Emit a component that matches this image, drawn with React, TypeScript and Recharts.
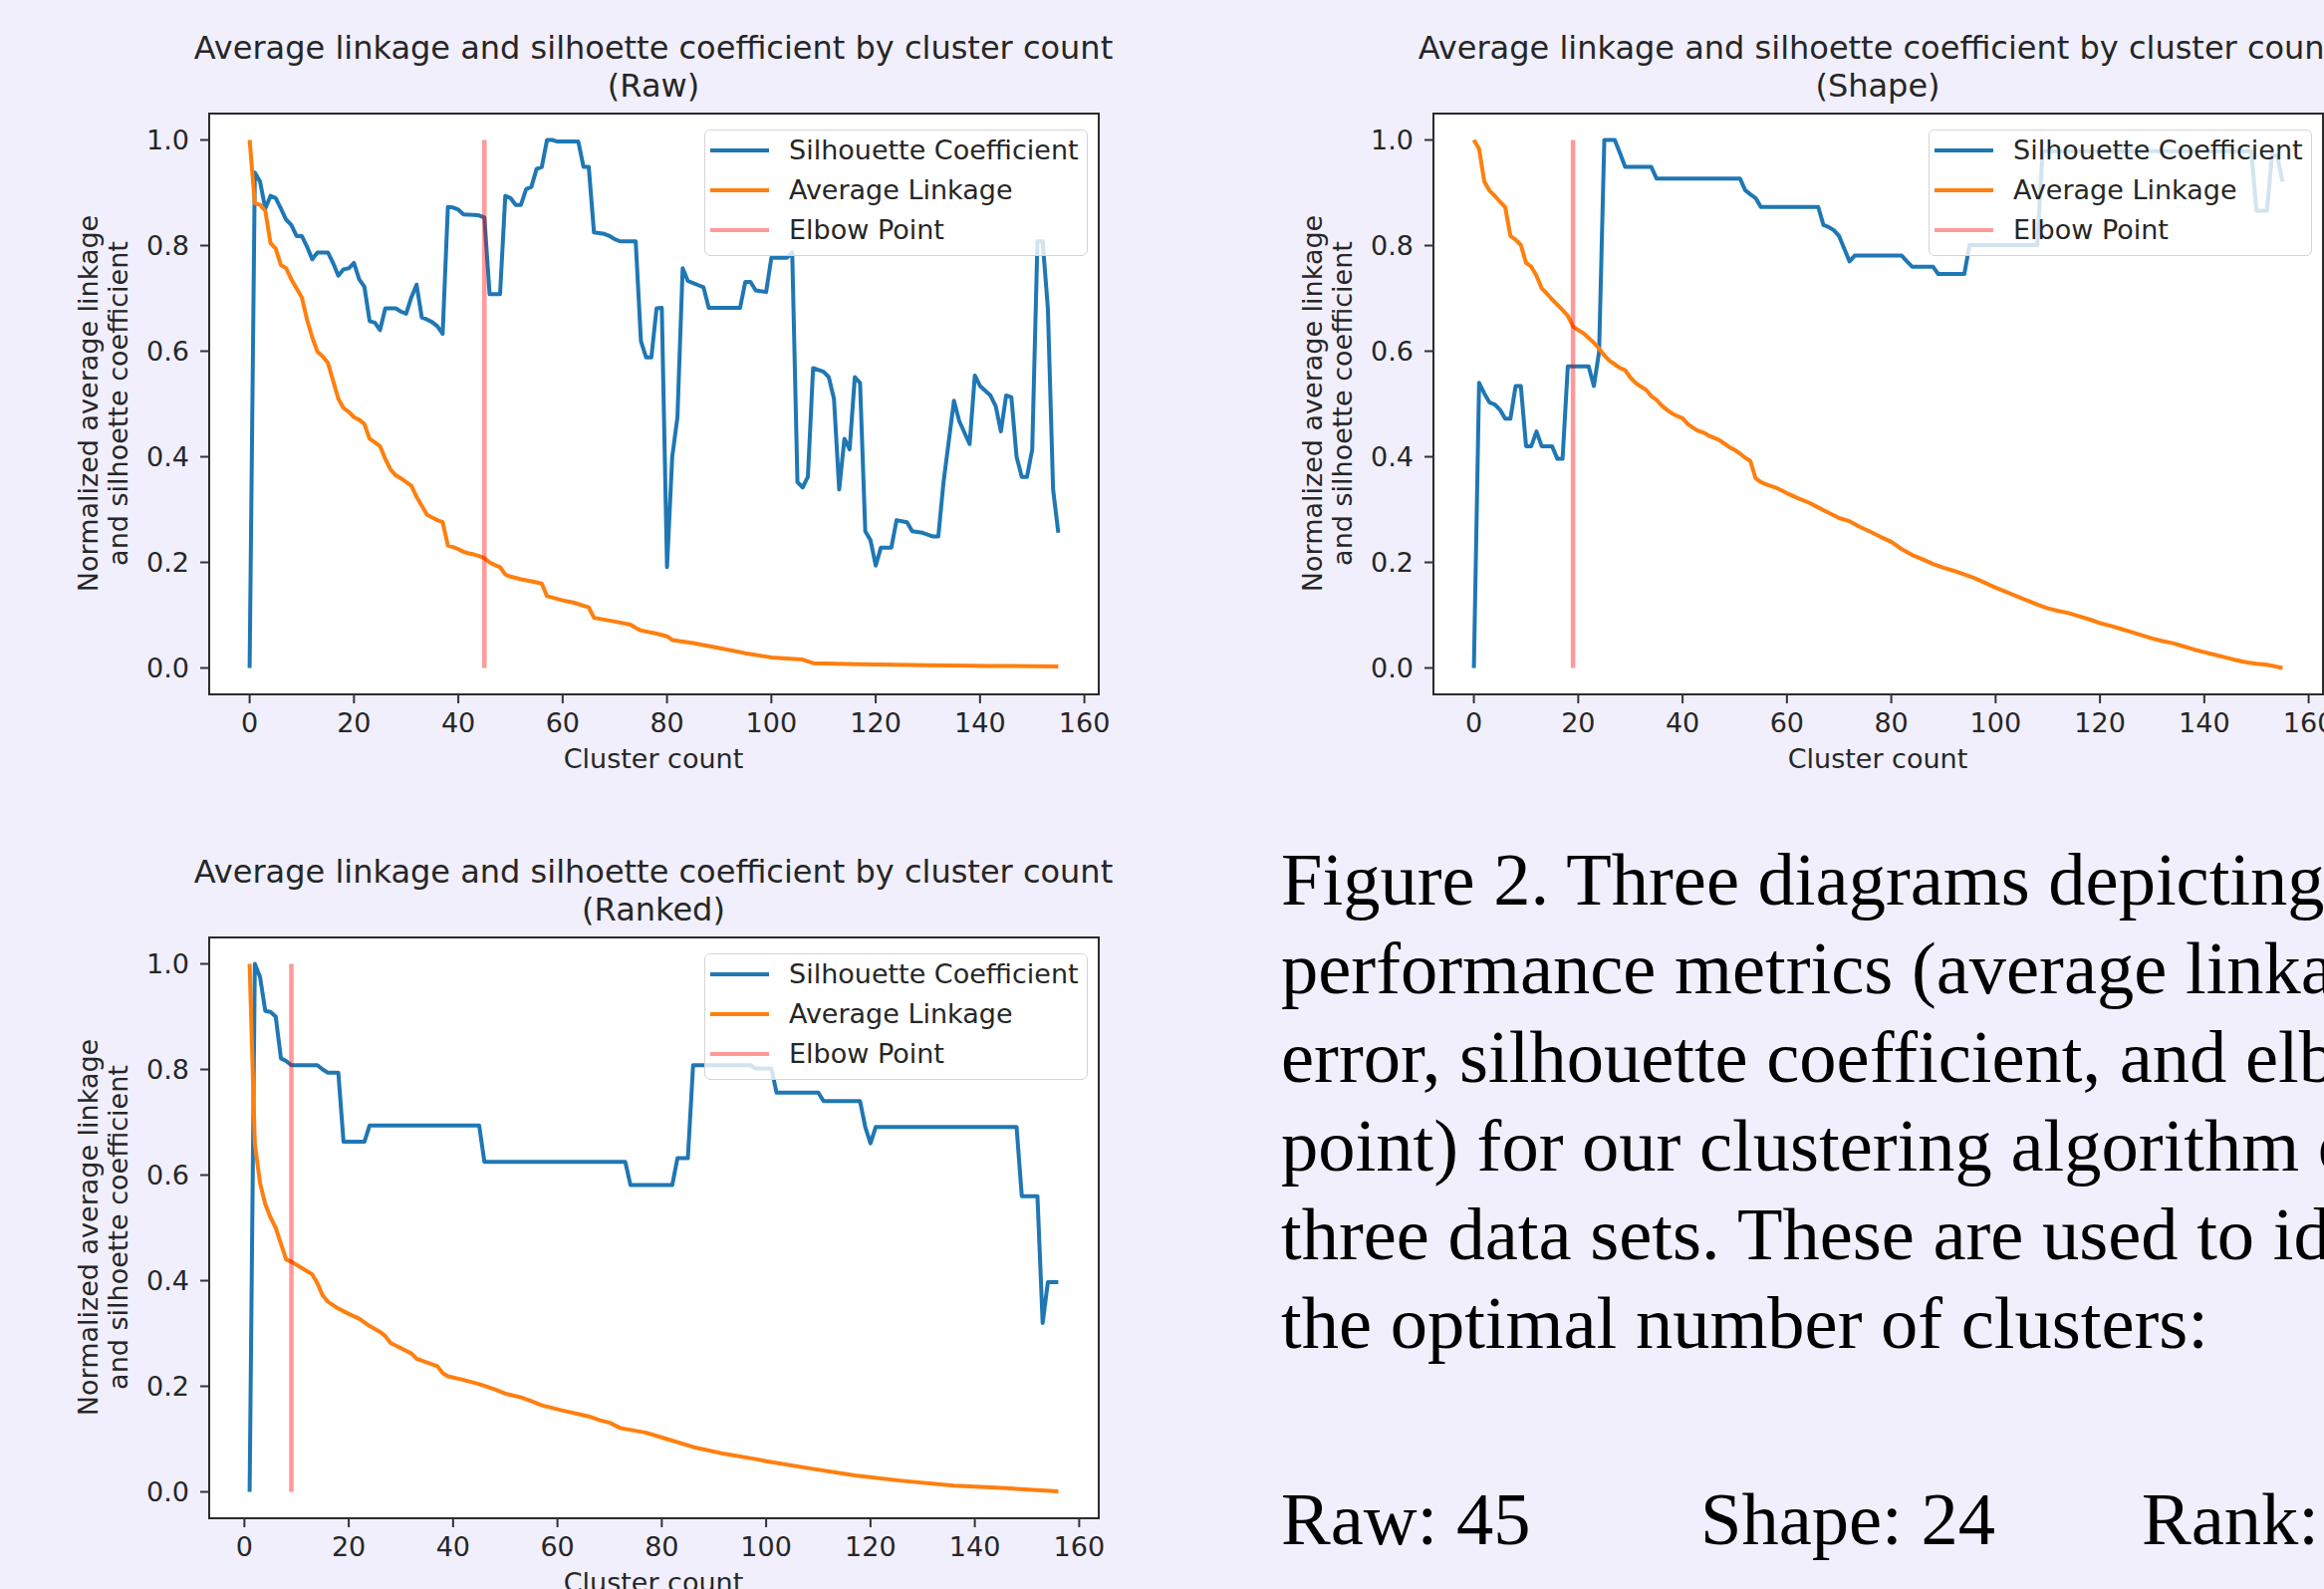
import React from "react";
import {
  LineChart,
  Line,
  XAxis,
  YAxis,
  CartesianGrid,
  ReferenceArea,
  Legend,
} from "recharts";

type Pt = [number, number];

const BLUE = "#1f77b4";
const ORANGE = "#ff7f0e";
const ELBOW = "rgba(255, 0, 0, 0.4)";
const INK = "#262626";
const SANS = "'DejaVu Sans', sans-serif";
const SERIF = "'Liberation Serif', 'Times New Roman', serif";

const X_TICKS = [0, 20, 40, 60, 80, 100, 120, 140, 160];
const Y_TICKS = [0, 0.2, 0.4, 0.6, 0.8, 1.0];

const TITLE = "Average linkage and silhoette coefficient by cluster count";
const SERIES_NAMES = ["Silhouette Coefficient", "Average Linkage", "Elbow Point"];

// cluster count -> normalized value
const RAW_SILHOUETTE: Pt[] = [
  [0, 0], [1, 0.938], [2, 0.921], [3, 0.87], [4, 0.894], [5, 0.89], [6, 0.87], [7, 0.849],
  [8, 0.839], [9, 0.818], [10, 0.818], [11, 0.798], [12, 0.774], [13, 0.787], [15, 0.787],
  [16, 0.767], [17, 0.743], [18, 0.755], [19, 0.757], [20, 0.767], [21, 0.736], [22, 0.722],
  [23, 0.657], [24, 0.654], [25, 0.64], [26, 0.681], [28, 0.681], [29, 0.675], [30, 0.671],
  [31, 0.702], [32, 0.726], [33, 0.664], [34, 0.66], [35, 0.655], [36, 0.647], [37, 0.633],
  [38, 0.873], [39, 0.872], [40, 0.868], [41, 0.859], [43, 0.858], [44, 0.857], [45, 0.853],
  [46, 0.708], [48, 0.708], [49, 0.894], [50, 0.89], [51, 0.877], [52, 0.877], [53, 0.907],
  [54, 0.911], [55, 0.945], [56, 0.949], [57, 1.0], [58, 1.0], [59, 0.997], [63, 0.997],
  [64, 0.949], [65, 0.949], [66, 0.825], [68, 0.822], [69, 0.818], [70, 0.812], [71, 0.808],
  [74, 0.808], [75, 0.619], [76, 0.588], [77, 0.588], [78, 0.681], [79, 0.682], [80, 0.191],
  [81, 0.4], [82, 0.475], [83, 0.757], [84, 0.733], [85, 0.729], [86, 0.725], [87, 0.721],
  [88, 0.682], [94, 0.682], [95, 0.731], [96, 0.731], [97, 0.715], [99, 0.712], [100, 0.777],
  [103, 0.777], [104, 0.787], [105, 0.352], [106, 0.342], [107, 0.362], [108, 0.568],
  [110, 0.561], [111, 0.551], [112, 0.51], [113, 0.338], [114, 0.434], [115, 0.414],
  [116, 0.551], [117, 0.54], [118, 0.259], [119, 0.242], [120, 0.194], [121, 0.228],
  [123, 0.228], [124, 0.28], [126, 0.276], [127, 0.259], [129, 0.256], [131, 0.249],
  [132, 0.249], [133, 0.352], [135, 0.506], [136, 0.468], [138, 0.424], [139, 0.554],
  [140, 0.534], [142, 0.516], [143, 0.496], [144, 0.448], [145, 0.516], [146, 0.513],
  [147, 0.4], [148, 0.362], [149, 0.362], [150, 0.414], [151, 0.808], [152, 0.808],
  [153, 0.681], [154, 0.338], [155, 0.256],
];

const RAW_LINKAGE: Pt[] = [
  [0, 1.0], [1, 0.88], [2, 0.877], [3, 0.866], [4, 0.805], [5, 0.794], [6, 0.763], [7, 0.757],
  [8, 0.736], [9, 0.719], [10, 0.702], [11, 0.66], [12, 0.626], [13, 0.599], [14, 0.59],
  [15, 0.578], [16, 0.544], [17, 0.51], [18, 0.492], [19, 0.485], [20, 0.475], [21, 0.47],
  [22, 0.462], [23, 0.434], [24, 0.427], [25, 0.42], [26, 0.396], [27, 0.376], [28, 0.365],
  [29, 0.359], [30, 0.352], [31, 0.345], [32, 0.324], [33, 0.307], [34, 0.29], [35, 0.285],
  [36, 0.28], [37, 0.276], [38, 0.232], [39, 0.229], [40, 0.225], [41, 0.22], [42, 0.217],
  [43, 0.215], [44, 0.212], [45, 0.208], [46, 0.2], [47, 0.195], [48, 0.191], [49, 0.177],
  [50, 0.173], [52, 0.168], [54, 0.164], [56, 0.16], [57, 0.136], [60, 0.128], [62, 0.124],
  [65, 0.115], [66, 0.095], [70, 0.088], [73, 0.082], [74, 0.076], [75, 0.071], [78, 0.065],
  [80, 0.06], [81, 0.053], [85, 0.047], [91, 0.036], [95, 0.028], [100, 0.02], [106, 0.016],
  [108, 0.009], [117, 0.007], [130, 0.005], [142, 0.004], [155, 0.003],
];

const SHAPE_SILHOUETTE: Pt[] = [
  [0, 0], [1, 0.54], [2, 0.52], [3, 0.503], [4, 0.499], [5, 0.489], [6, 0.472], [7, 0.472],
  [8, 0.534], [9, 0.534], [10, 0.42], [11, 0.42], [12, 0.448], [13, 0.42], [15, 0.42],
  [16, 0.396], [17, 0.396], [18, 0.571], [22, 0.571], [23, 0.534], [24, 0.599], [25, 1.0],
  [27, 1.0], [28, 0.975], [29, 0.949], [34, 0.949], [35, 0.927], [51, 0.927], [52, 0.905],
  [53, 0.897], [54, 0.89], [55, 0.873], [66, 0.873], [67, 0.839], [68, 0.835], [69, 0.829],
  [70, 0.818], [71, 0.794], [72, 0.77], [73, 0.781], [82, 0.781], [83, 0.77], [84, 0.76],
  [88, 0.76], [89, 0.746], [94, 0.746], [95, 0.801], [108, 0.801], [109, 0.979], [149, 0.979],
  [150, 0.866], [152, 0.866], [153, 0.973], [154, 0.969], [155, 0.921],
];

const SHAPE_LINKAGE: Pt[] = [
  [0, 1.0], [1, 0.983], [2, 0.921], [3, 0.904], [4, 0.894], [5, 0.883], [6, 0.873], [7, 0.818],
  [8, 0.811], [9, 0.801], [10, 0.767], [11, 0.76], [12, 0.743], [13, 0.719], [14, 0.709],
  [15, 0.698], [16, 0.688], [17, 0.678], [18, 0.667], [19, 0.647], [20, 0.64], [21, 0.634],
  [22, 0.625], [23, 0.616], [24, 0.605], [25, 0.592], [26, 0.582], [27, 0.575], [28, 0.568],
  [29, 0.564], [30, 0.55], [31, 0.54], [32, 0.533], [33, 0.527], [34, 0.515], [35, 0.508],
  [36, 0.497], [37, 0.489], [38, 0.482], [39, 0.477], [40, 0.473], [41, 0.462], [42, 0.455],
  [43, 0.449], [44, 0.446], [45, 0.44], [46, 0.436], [47, 0.432], [48, 0.425], [49, 0.418],
  [50, 0.413], [51, 0.406], [52, 0.398], [53, 0.392], [54, 0.359], [55, 0.352], [56, 0.348],
  [58, 0.341], [60, 0.331], [62, 0.322], [64, 0.314], [66, 0.304], [68, 0.294], [70, 0.284],
  [72, 0.278], [74, 0.267], [76, 0.258], [78, 0.248], [80, 0.239], [82, 0.225], [84, 0.214],
  [86, 0.206], [88, 0.197], [90, 0.19], [92, 0.184], [94, 0.177], [96, 0.17], [98, 0.161],
  [100, 0.152], [102, 0.144], [104, 0.136], [106, 0.128], [108, 0.12], [110, 0.113],
  [112, 0.108], [114, 0.104], [116, 0.098], [118, 0.092], [120, 0.085], [122, 0.08],
  [124, 0.074], [126, 0.068], [128, 0.062], [130, 0.056], [132, 0.051], [134, 0.047],
  [136, 0.041], [138, 0.035], [140, 0.03], [142, 0.025], [144, 0.02], [146, 0.015],
  [148, 0.011], [150, 0.008], [152, 0.006], [155, 0.0],
];

const RANKED_SILHOUETTE: Pt[] = [
  [1, 0], [2, 1.0], [3, 0.975], [4, 0.911], [5, 0.909], [6, 0.9], [7, 0.821], [8, 0.816],
  [9, 0.808], [14, 0.808], [15, 0.8], [16, 0.794], [18, 0.794], [19, 0.663], [23, 0.663],
  [24, 0.694], [45, 0.694], [46, 0.625], [73, 0.625], [74, 0.581], [82, 0.581], [83, 0.632],
  [85, 0.632], [86, 0.808], [97, 0.808], [98, 0.802], [101, 0.802], [102, 0.756], [110, 0.756],
  [111, 0.74], [118, 0.74], [119, 0.691], [120, 0.66], [121, 0.691], [148, 0.691], [149, 0.56],
  [152, 0.56], [153, 0.32], [154, 0.397], [156, 0.397],
];

const RANKED_LINKAGE: Pt[] = [
  [1, 1.0], [2, 0.66], [3, 0.585], [4, 0.545], [5, 0.52], [6, 0.5], [7, 0.47], [8, 0.44],
  [9, 0.436], [10, 0.43], [12, 0.418], [13, 0.412], [14, 0.395], [15, 0.372], [16, 0.36],
  [18, 0.347], [20, 0.337], [22, 0.328], [24, 0.314], [26, 0.303], [27, 0.295], [28, 0.282],
  [30, 0.272], [32, 0.262], [33, 0.252], [35, 0.245], [37, 0.238], [38, 0.225], [39, 0.219],
  [42, 0.212], [45, 0.204], [48, 0.194], [50, 0.186], [53, 0.179], [55, 0.172], [57, 0.164],
  [61, 0.154], [66, 0.143], [68, 0.136], [70, 0.131], [72, 0.121], [77, 0.112], [81, 0.1],
  [86, 0.085], [92, 0.072], [98, 0.062], [100, 0.058], [108, 0.045], [117, 0.031],
  [126, 0.021], [136, 0.012], [146, 0.007], [156, 0.001],
];

const RAW_ELBOW = 45;
const SHAPE_ELBOW = 19;
const RANKED_ELBOW = 9;

const CAPTION_LINES = [
  "Figure 2. Three diagrams depicting the",
  "performance metrics (average linkage",
  "error, silhouette coefficient, and elbow",
  "point) for our clustering algorithm on",
  "three data sets. These are used to identify",
  "the optimal number of clusters:",
];
const RESULTS = ["Raw: 45", "Shape: 24", "Rank: 9"];
const RESULT_X = [1286, 1707, 2150];

// layout (px)
const PLOT_W = 893;
const PLOT_H = 583;
const Y_AXIS_W = 130;
const X_AXIS_H = 80;
const PAD = 5;
const RIGHT_PAD = 45;
const Y_DOMAIN: [number, number] = [-0.05, 1.05];

const toRows = (pts: Pt[]) => pts.map(([x, y]) => ({ x, y }));

const renderLegend = (props: any) => {
  const payload = [...(props.payload || [])].sort(
    (a: any, b: any) => SERIES_NAMES.indexOf(a.value) - SERIES_NAMES.indexOf(b.value)
  );
  return (
    <div
      style={{
        boxSizing: "border-box",
        position: "relative",
        width: 385,
        height: 127,
        border: "1.5px solid #d4d4d4",
        borderRadius: 6,
        background: "rgba(255,255,255,0.8)",
        fontFamily: SANS,
        fontSize: 27,
        color: INK,
      }}
    >
      {payload.map((entry: any, i: number) => (
        <div
          key={entry.value}
          style={{
            position: "absolute",
            left: 0,
            top: 4 + i * 40,
            height: 32,
            display: "flex",
            alignItems: "center",
          }}
        >
          <div style={{ marginLeft: 5, width: 59, height: 4, background: entry.color }} />
          <span style={{ marginLeft: 20, lineHeight: "32px", whiteSpace: "nowrap" }}>
            {entry.value}
          </span>
        </div>
      ))}
    </div>
  );
};

interface PanelProps {
  subtitle: string;
  left: number;
  top: number;
  xDomain: [number, number];
  silhouette: Pt[];
  linkage: Pt[];
  elbow: number;
}

function Panel({ subtitle, left, top, xDomain, silhouette, linkage, elbow }: PanelProps) {
  const cx = left + PLOT_W / 2;
  const tick = { fontSize: 27, fill: INK, fontFamily: SANS };
  const tickLine = { stroke: "#333", strokeWidth: 2 };
  return (
    <>
      <div
        style={{
          position: "absolute",
          left: cx - 700,
          top: top - 84.5,
          width: 1400,
          textAlign: "center",
          fontFamily: SANS,
          fontSize: 32,
          lineHeight: "38px",
          color: INK,
          whiteSpace: "nowrap",
        }}
      >
        <div>{TITLE}</div>
        <div>{subtitle}</div>
      </div>
      <div
        style={{
          position: "absolute",
          left: left - 105.5 - 350,
          top: top + PLOT_H / 2 - 30,
          width: 700,
          height: 60,
          transform: "rotate(-90deg)",
          textAlign: "center",
          fontFamily: SANS,
          fontSize: 27,
          lineHeight: "30px",
          color: INK,
          whiteSpace: "nowrap",
        }}
      >
        <div>Normalized average linkage</div>
        <div>and silhoette coefficient</div>
      </div>
      <div
        style={{
          position: "absolute",
          left: cx - 200,
          top: top + PLOT_H + 65.5 - 16,
          width: 400,
          textAlign: "center",
          fontFamily: SANS,
          fontSize: 27,
          lineHeight: "32px",
          color: INK,
        }}
      >
        Cluster count
      </div>
      <div style={{ position: "absolute", left: left - Y_AXIS_W, top: top - PAD }}>
        <LineChart
          width={Y_AXIS_W + PLOT_W + RIGHT_PAD}
          height={PAD + PLOT_H + X_AXIS_H}
          margin={{ top: PAD, right: RIGHT_PAD, bottom: 0, left: 0 }}
        >
          <CartesianGrid horizontal={false} vertical={false} fill="#ffffff" />
          <XAxis
            type="number"
            dataKey="x"
            domain={xDomain}
            allowDataOverflow
            ticks={X_TICKS}
            interval={0}
            height={X_AXIS_H}
            tickSize={9}
            tickMargin={9.5}
            axisLine={false}
            tickLine={tickLine}
            tick={tick}
          />
          <YAxis
            type="number"
            dataKey="y"
            domain={Y_DOMAIN}
            allowDataOverflow
            ticks={Y_TICKS}
            interval={0}
            width={Y_AXIS_W}
            tickSize={9}
            tickMargin={11}
            tickFormatter={(v: number) => v.toFixed(1)}
            axisLine={false}
            tickLine={tickLine}
            tick={tick}
          />
          <ReferenceArea
            x1={xDomain[0]}
            x2={xDomain[1]}
            y1={Y_DOMAIN[0]}
            y2={Y_DOMAIN[1]}
            fill="none"
            fillOpacity={0}
            stroke="#2b2b2b"
            strokeWidth={2}
          />
          <Line
            data={toRows(silhouette)}
            dataKey="y"
            name={SERIES_NAMES[0]}
            type="linear"
            stroke={BLUE}
            strokeWidth={4}
            strokeLinejoin="round"
            dot={false}
            activeDot={false}
            isAnimationActive={false}
          />
          <Line
            data={toRows(linkage)}
            dataKey="y"
            name={SERIES_NAMES[1]}
            type="linear"
            stroke={ORANGE}
            strokeWidth={4}
            strokeLinejoin="round"
            dot={false}
            activeDot={false}
            isAnimationActive={false}
          />
          <Line
            data={toRows([[elbow, 0], [elbow, 1]])}
            dataKey="y"
            name={SERIES_NAMES[2]}
            type="linear"
            stroke={ELBOW}
            strokeWidth={4.5}
            dot={false}
            activeDot={false}
            isAnimationActive={false}
          />
          <Legend
            layout="vertical"
            align="center"
            verticalAlign="middle"
            content={renderLegend}
            wrapperStyle={{
              left: Y_AXIS_W + 497.5,
              top: PAD + 16.5,
              width: 385,
              height: 127,
            }}
          />
        </LineChart>
      </div>
    </>
  );
}

export default function App() {
  return (
    <div
      style={{
        position: "absolute",
        left: 0,
        top: 0,
        width: 2333,
        height: 1595,
        overflow: "hidden",
        background: "#f1effc",
      }}
    >
      <Panel
        subtitle="(Raw)"
        left={209.5}
        top={113.5}
        xDomain={[-7.75, 162.75]}
        silhouette={RAW_SILHOUETTE}
        linkage={RAW_LINKAGE}
        elbow={RAW_ELBOW}
      />
      <Panel
        subtitle="(Shape)"
        left={1438.5}
        top={113.5}
        xDomain={[-7.75, 162.75]}
        silhouette={SHAPE_SILHOUETTE}
        linkage={SHAPE_LINKAGE}
        elbow={SHAPE_ELBOW}
      />
      <Panel
        subtitle="(Ranked)"
        left={209.5}
        top={940.5}
        xDomain={[-6.75, 163.75]}
        silhouette={RANKED_SILHOUETTE}
        linkage={RANKED_LINKAGE}
        elbow={RANKED_ELBOW}
      />
      <div
        style={{
          position: "absolute",
          left: 1286,
          top: 839.4,
          fontFamily: SERIF,
          fontSize: 74.5,
          lineHeight: "89px",
          color: "#000",
          whiteSpace: "nowrap",
        }}
      >
        {CAPTION_LINES.map((line) => (
          <div key={line}>{line}</div>
        ))}
      </div>
      {RESULTS.map((text, i) => (
        <div
          key={text}
          style={{
            position: "absolute",
            left: RESULT_X[i],
            top: 1480.9,
            fontFamily: SERIF,
            fontSize: 74.5,
            lineHeight: "89px",
            color: "#000",
            whiteSpace: "nowrap",
          }}
        >
          {text}
        </div>
      ))}
    </div>
  );
}
